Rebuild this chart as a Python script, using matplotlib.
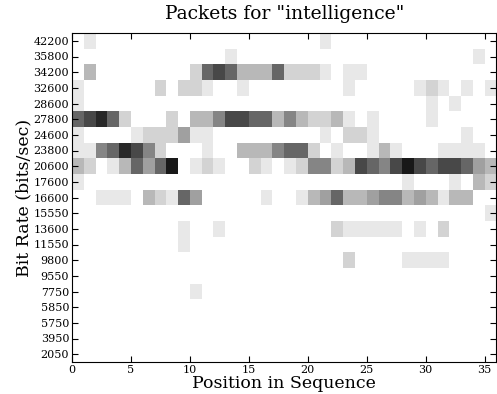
import numpy as np
import matplotlib
matplotlib.use("Agg")
import matplotlib.pyplot as plt
from matplotlib.colors import ListedColormap, BoundaryNorm

# bit rate bins, bottom to top
rates = [2050, 3950, 5750, 5850, 7750, 9550, 9800, 11550, 13600, 15550,
         16600, 17600, 20600, 23800, 24600, 27800, 28600, 32600, 34200,
         35800, 42200]

# packet intensity per position (0-9), rows listed top (42200) to bottom (2050)
# groups: cols 0-4, 5-9, 10-14, 15-19, 20-24, 25-29, 30-35
grid_rows = [
    "01000 00000 00000 00000 01000 00000 000000",  # 42200
    "00000 00000 00010 00000 00000 00000 000010",  # 35800
    "03000 00000 26763 33622 21011 00000 000000",  # 34200
    "10000 00202 21001 00000 00010 00001 210101",  # 32600
    "10000 00000 00000 00000 00000 00000 101000",  # 28600
    "67862 00020 33577 66353 22310 10000 100000",  # 27800
    "10000 12224 11000 00000 01022 10000 000100",  # 24600
    "11568 75200 01003 33566 20100 13100 011110",  # 23800
    "32013 64690 12100 21012 55237 65797 677643",  # 20600
    "10000 00000 00000 00000 00000 00010 001032",  # 17600
    "00111 03216 40000 01001 34633 45534 313300",  # 16600
    "00000 00000 00000 00000 00000 00000 000001",  # 15550
    "00000 00001 00100 00000 00211 11101 020000",  # 13600
    "00000 00001 00000 00000 00000 00000 000000",  # 11550
    "00000 00000 00000 00000 00020 00011 110000",  # 9800
    "00000 00000 00000 00000 00000 00000 000000",  # 9550
    "00000 00000 10000 00000 00000 00000 000000",  # 7750
    "00000 00000 00000 00000 00000 00000 000000",  # 5850
    "00000 00000 00000 00000 00000 00000 000000",  # 5750
    "00000 00000 00000 00000 00000 00000 000000",  # 3950
    "00000 00000 00000 00000 00000 00000 000000",  # 2050
]

grid = np.array([[int(c) for c in r.replace(" ", "")] for r in grid_rows])[::-1]
assert grid.shape == (len(rates), 36)

plt.rcParams['font.family'] = 'DejaVu Serif'

grays = [255, 232, 211, 184, 160, 133, 102, 72, 40, 24]
cmap = ListedColormap([(g / 255, g / 255, g / 255) for g in grays])
norm = BoundaryNorm(np.arange(-0.5, 10, 1), cmap.N)

fig = plt.figure(figsize=(4.97, 3.94), dpi=100)
ax = fig.add_axes([72 / 497, 32 / 394, 424.5 / 497, 329 / 394])

ny, nx = grid.shape
ax.pcolormesh(np.arange(nx + 1), np.arange(ny + 1), grid,
              cmap=cmap, norm=norm, edgecolors='none')

ax.set_xlim(0, nx)
ax.set_ylim(0, ny)
ax.set_xticks(np.arange(0, nx, 5))
ax.set_yticks(np.arange(ny) + 0.5)
ax.set_yticklabels([str(r) for r in rates])
ax.tick_params(direction='in', top=True, right=True, length=4,
               labelsize=8, pad=2)

ax.set_title('Packets for "intelligence"', fontsize=13.5, pad=10)
ax.set_xlabel('Position in Sequence', fontsize=12.5, labelpad=0)
ax.set_ylabel('Bit Rate (bits/sec)', fontsize=12.5, labelpad=1)

fig.savefig('out.png', dpi=100)
